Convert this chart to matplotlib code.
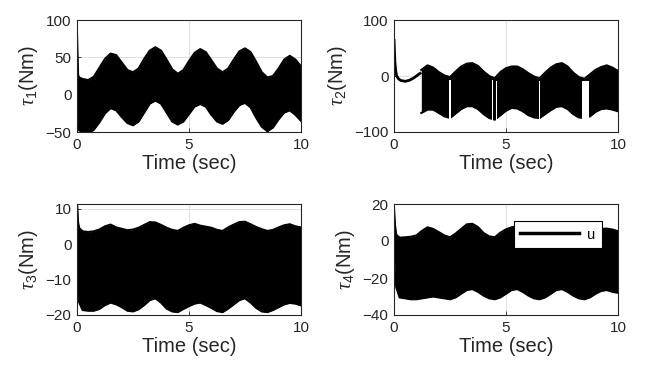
import numpy as np
import matplotlib
matplotlib.use("Agg")
import matplotlib.pyplot as plt

plt.rcParams['font.family'] = ['Liberation Sans', 'DejaVu Sans']
plt.rcParams['mathtext.fontset'] = 'custom'
plt.rcParams['mathtext.rm'] = 'Liberation Sans'
plt.rcParams['mathtext.it'] = 'Liberation Serif:italic'

# envelope of the chattering torque signals (sec, Nm)
t_grid = [0.0, 0.05, 0.1, 0.25, 0.5, 0.75, 1.0, 1.25, 1.5, 1.75, 2.0, 2.25, 2.5,
          2.75, 3.0, 3.25, 3.5, 3.75, 4.0, 4.25, 4.5, 4.75, 5.0, 5.25, 5.5,
          5.75, 6.0, 6.25, 6.5, 6.75, 7.0, 7.25, 7.5, 7.75, 8.0, 8.25, 8.5,
          8.75, 9.0, 9.25, 9.5, 9.75, 10.0]

tau1_upper = [82, 26, 23, 21, 19.5, 24, 36, 48, 55, 53, 43, 33, 30,
              35, 48, 59, 63.5, 59, 47, 34, 28, 33, 45, 56, 61,
              57, 46, 35, 30, 35, 47, 58, 62, 57, 44, 30, 23,
              25, 35, 47, 52, 47, 38]
tau1_lower = [-20, -45, -48, -50, -52, -47, -37, -25, -18, -21, -30, -38, -41,
              -36, -24, -12, -8, -12, -24, -36, -40, -36, -26, -16, -12.5,
              -16, -27, -36, -39, -34, -23, -14, -11, -17, -31, -43, -49,
              -44, -33, -24, -21, -27, -35]

# tau2: smooth transient first, chattering band after ~1.2 s
t2_line = [0.0, 0.04, 0.08, 0.12, 0.2, 0.3, 0.5, 0.7, 0.9, 1.1, 1.22]
tau2_line = [66, 25, 8, 0, -5, -8, -9.5, -7.5, -3, 3, 6]
t2_band = [1.22, 1.5, 1.75, 2.0, 2.25, 2.5, 2.75, 3.0, 3.25, 3.5, 3.75, 4.0,
           4.25, 4.5, 4.75, 5.0, 5.25, 5.5, 5.75, 6.0, 6.25, 6.5, 6.75, 7.0,
           7.25, 7.5, 7.75, 8.0, 8.25, 8.5, 8.75, 9.0, 9.25, 9.5, 9.75, 10.0]
tau2_upper = [11, 19, 15, 7, 1, -2, 8, 17, 22, 23, 18, 8,
              0, -4, 7, 14, 17, 17, 12, 5, -1, -4, 6, 15,
              21, 23, 17, 6, -2, -5, 3, 11, 16, 19, 15, 9]
tau2_lower = [-66, -60, -60, -66, -72, -75, -67, -59, -54, -54, -59, -68,
              -75, -78, -70, -62, -57, -58, -63, -70, -74, -75, -68, -61,
              -55, -54, -59, -68, -74, -75, -72, -64, -59, -58, -60, -63]
# short intervals where the band is interrupted
gap_t = [2.50, 4.41, 4.56, 6.48, 8.54]
gap_w = [0.05, 0.04, 0.05, 0.05, 0.30]
gap_top = [-7, -8, -9, -9, -9]

tau3_upper = [12, 6, 4.5, 3.6, 3.4, 3.6, 4.1, 5.0, 5.5, 4.7, 4.3, 3.9, 4.1,
              4.6, 5.4, 6.2, 6.1, 5.4, 4.6, 4.0, 3.7, 4.6, 5.3, 5.7, 5.2,
              4.9, 4.6, 4.0, 3.7, 4.7, 5.5, 6.2, 6.3, 5.6, 4.8, 4.2, 3.7,
              4.0, 4.7, 5.3, 5.6, 5.0, 4.7]
tau3_lower = [-15, -16, -16.5, -18.6, -18.8, -18.8, -18.3, -17.2, -16.5, -17.0, -17.8, -18.8, -19.0,
              -18.4, -17.2, -15.8, -15.3, -16.5, -18.2, -19.0, -19.2, -18.3, -17.5, -16.8, -16.5,
              -17.2, -18.0, -18.9, -19.2, -18.2, -17.0, -15.8, -15.3, -16.5, -18.0, -19.0, -19.2,
              -18.6, -17.8, -17.0, -16.6, -16.8, -17.3]

tau4_upper = [18, 8, 3.4, 1.8, 2.0, 2.3, 3.0, 5.5, 7.4, 6.5, 4.8, 3.0, 2.0,
              4.0, 6.5, 9.0, 9.3, 7.5, 4.3, 2.5, 2.0, 4.5, 6.3, 7.4, 8.0,
              7.0, 5.0, 3.0, 2.5, 4.5, 6.5, 8.5, 9.0, 7.5, 5.0, 3.0, 2.0,
              3.5, 5.5, 6.5, 6.7, 6.2, 5.3]
tau4_lower = [-5, -20, -25, -30.5, -31, -31.5, -31.5, -31, -30.5, -30, -30.5, -31, -31.5,
              -30.5, -28.5, -26.5, -26, -27.5, -29.5, -31, -31.5, -30.5, -28.5, -26.5, -26,
              -27.5, -29.5, -31, -31.5, -30.5, -28.5, -26.5, -26, -27.5, -29.5, -31, -31.5,
              -30.5, -28.5, -27, -26.5, -27.5, -28]

ylabels = [r'$\tau_1$(Nm)', r'$\tau_2$(Nm)', r'$\tau_3$(Nm)', r'$\tau_4$(Nm)']
ylims = [(-50, 100), (-100, 100), (-20, 11.3), (-40, 20)]
yticks = [[-50, 0, 50, 100], [-100, 0, 100], [-20, -10, 0, 10], [-40, -20, 0, 20]]
xticks = [0, 5, 10]

W, H = 650, 379
TXT = '#262626'
# axes boxes in pixels: left, top, right, bottom
boxes = [(77, 20, 301, 132), (394, 20, 618, 132),
         (77, 204, 301, 315), (394, 204, 618, 315)]

fig = plt.figure(figsize=(W / 100, H / 100), dpi=100)
axes = []
for (l, t, r, b) in boxes:
    axes.append(fig.add_axes([l / W, (H - b) / H, (r - l) / W, (b - t) / H]))


def draw_band(ax, t, upper, lower, label=None):
    ax.fill_between(t, lower, upper, color='k', lw=0)
    ax.plot(t, upper, color='k', lw=1.5, label=label)
    ax.plot(t, lower, color='k', lw=1.5)


draw_band(axes[0], t_grid, tau1_upper, tau1_lower)

axes[1].plot(t2_line, tau2_line, color='k', lw=2, solid_capstyle='butt')
draw_band(axes[1], t2_band, tau2_upper, tau2_lower)
axes[1].bar(gap_t, np.array(gap_top) + 82, bottom=-82, width=gap_w,
            color='white', lw=0, zorder=3)

draw_band(axes[2], t_grid, tau3_upper, tau3_lower)
draw_band(axes[3], t_grid, tau4_upper, tau4_lower, label='u')

for i, ax in enumerate(axes):
    ax.set_xlim(0, 10)
    ax.set_ylim(*ylims[i])
    ax.set_xticks(xticks)
    ax.set_yticks(yticks[i])
    ax.grid(True, color='#dedede', lw=0.7)
    ax.set_axisbelow(True)
    ax.tick_params(direction='in', length=3, width=0.6, colors=TXT,
                   labelsize=11, pad=4)
    for s in ax.spines.values():
        s.set_color(TXT)
        s.set_linewidth(0.8)
    ax.set_xlabel('Time (sec)', fontsize=14.5, color=TXT, labelpad=2)
    ax.set_ylabel(ylabels[i], fontsize=14.5, color=TXT, labelpad=4)

leg = axes[3].legend(loc='upper right', bbox_to_anchor=(0.929, 0.847),
                     borderaxespad=0, fontsize=10.5, handlelength=4.0,
                     frameon=True, fancybox=False, framealpha=1,
                     edgecolor='k', borderpad=0.45, handletextpad=0.6)
leg.get_frame().set_linewidth(0.8)
leg.get_lines()[0].set_linewidth(2.5)

fig.savefig('out.png', dpi=100)
